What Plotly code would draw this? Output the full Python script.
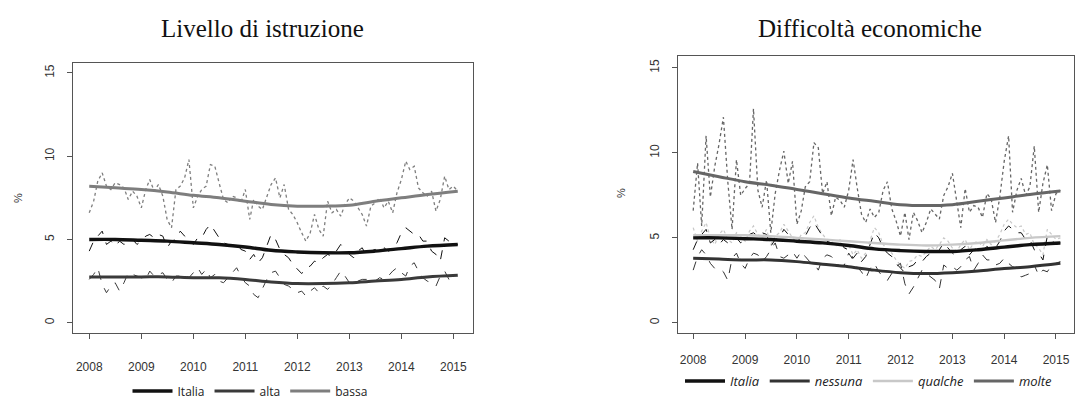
import pandas as pd
import plotly.graph_objects as go

# ---------------- data ----------------
months = pd.date_range("2008-01-01", periods=86, freq="MS")
trend_dates = ["2008-01-01", "2008-07-01", "2009-01-01", "2009-07-01", "2010-01-01",
               "2010-07-01", "2011-01-01", "2011-07-01", "2012-01-01", "2012-07-01",
               "2013-01-01", "2013-07-01", "2014-01-01", "2014-07-01", "2015-02-01"]
year_ticks = ["2008-01-01", "2009-01-01", "2010-01-01", "2011-01-01",
              "2012-01-01", "2013-01-01", "2014-01-01", "2015-01-01"]
year_labels = ["2008", "2009", "2010", "2011", "2012", "2013", "2014", "2015"]

italia_m = [4.3, 4.9, 5.2, 5.5, 4.7, 4.9, 4.6, 4.9, 4.7, 4.8, 5.0, 4.7, 4.9, 5.2, 5.3, 5.1,
            5.3, 5.2, 4.5, 4.9, 5.0, 5.5, 5.2, 5.0, 4.7, 5.1, 5.1, 5.6, 5.9, 5.5, 5.1, 4.8,
            4.7, 4.6, 4.8, 4.4, 4.3, 3.8, 4.1, 3.6, 3.9, 4.6, 5.3, 5.0, 4.4, 4.1, 3.9, 3.5,
            3.2, 2.95, 3.3, 3.4, 3.7, 3.6, 3.9, 4.1, 4.0, 4.3, 4.7, 4.4, 4.1, 3.9, 4.3, 4.5,
            4.0, 4.3, 4.4, 4.2, 4.5, 4.3, 4.4, 4.8, 5.4, 5.7, 5.5, 5.3, 5.3, 4.9, 4.9, 4.3,
            4.1, 3.7, 5.1, 4.9, 4.6, 4.7]
alta_m = [2.6, 2.9, 3.3, 2.3, 1.8, 2.2, 2.4, 1.9, 2.4, 3.0, 2.9, 2.8, 2.7, 2.6, 3.1, 2.8,
          2.9, 3.0, 2.6, 2.4, 2.8, 2.8, 2.9, 2.7, 3.0, 3.3, 2.9, 3.2, 2.7, 2.9, 2.5, 2.4,
          2.7, 3.0, 3.3, 2.8, 2.4, 2.2, 1.7, 1.5, 2.0, 2.6, 3.0, 3.1, 2.7, 2.3, 2.2, 2.0,
          1.8, 1.9, 1.6, 1.9, 2.1, 1.8, 2.2, 2.0, 2.3, 2.7, 3.1, 2.8, 2.4, 2.3, 2.5, 2.6,
          2.6, 2.4, 2.5, 2.7, 2.6, 2.8, 3.1, 3.3, 3.0, 2.8, 3.4, 3.6, 3.1, 2.7, 2.5, 2.4,
          2.2, 2.8, 3.1, 2.6, 2.7, 2.8]
bassa_m = [6.6, 7.3, 8.5, 9.0, 8.2, 8.0, 8.4, 8.3, 8.1, 7.4, 7.9, 7.6, 6.9, 8.0, 8.6, 7.9,
           8.3, 7.6, 6.2, 5.7, 8.0, 8.2, 8.7, 9.8, 6.9, 7.6, 8.0, 8.2, 9.5, 9.4, 8.4, 7.4,
           7.2, 7.6, 7.5, 7.2, 8.0, 6.2, 7.4, 7.0, 6.8, 7.5, 8.3, 8.7, 7.5, 8.3, 6.8, 6.5,
           6.0, 5.4, 4.9, 5.4, 6.5, 5.6, 5.2, 7.3, 6.6, 6.8, 6.4, 7.1, 7.5, 7.3, 6.9, 6.5,
           5.8, 7.0, 7.2, 7.5, 6.9, 7.3, 6.6, 7.8, 8.6, 9.7, 9.2, 9.4, 8.1, 7.8, 7.6, 7.9,
           6.7, 7.4, 8.8, 8.0, 8.2, 7.9]
nessuna_m = [3.1, 3.9, 4.3, 4.0, 3.5, 3.2, 3.2, 3.0, 2.5, 3.8, 4.1, 3.5, 3.2, 3.8, 4.1, 4.0,
             3.6, 3.9, 4.3, 4.7, 3.9, 3.8, 4.0, 4.2, 3.8, 4.2, 3.9, 3.6, 3.5, 3.1, 3.8, 4.0,
             3.9, 3.6, 3.3, 3.4, 4.1, 3.7, 3.3, 3.0, 2.6, 3.2, 3.5, 3.0, 2.7, 2.5, 2.9, 3.3,
             3.5, 2.3, 1.7, 2.1, 2.6, 3.1, 2.9, 2.7, 2.5, 2.0, 3.4, 3.2, 3.3, 3.1, 3.3, 3.7,
             3.9, 3.1, 3.5, 4.0, 3.7, 3.7, 3.4, 3.5, 3.8, 3.5, 3.3, 3.2, 2.7, 2.8, 2.9, 3.4,
             2.8, 3.1, 3.0, 3.4, 3.5, 3.6]
qualche_m = [5.6, 4.8, 5.4, 5.9, 5.0, 4.6, 5.2, 5.5, 4.9, 4.7, 5.3, 5.1, 4.8, 5.4, 5.7, 5.2,
             5.0, 5.5, 4.6, 5.1, 5.3, 5.8, 5.4, 5.0, 4.7, 5.2, 5.3, 5.9, 6.3, 5.6, 5.2, 4.9,
             4.8, 4.5, 4.9, 4.4, 4.6, 4.0, 4.3, 3.8, 4.1, 4.8, 5.6, 5.3, 4.6, 4.3, 4.1, 3.7,
             3.4, 3.2, 3.6, 3.7, 4.0, 3.9, 4.2, 4.5, 4.3, 4.6, 5.0, 4.8, 4.4, 4.2, 4.6, 4.9,
             4.3, 4.7, 4.8, 4.5, 4.9, 4.6, 4.8, 5.2, 5.8, 6.1, 5.8, 5.6, 5.7, 5.2, 5.3, 4.6,
             4.4, 4.0, 5.5, 5.2, 4.9, 5.0]
molte_m = [6.6, 9.4, 5.7, 11.0, 7.4, 9.2, 10.5, 12.1, 8.3, 5.5, 9.6, 7.5, 7.9, 8.2, 12.6, 7.8,
           6.8, 8.4, 5.3, 7.6, 9.0, 10.1, 8.2, 9.5, 5.8, 6.6, 8.0, 8.3, 10.6, 10.3, 7.6, 8.3,
           6.3, 7.4, 7.2, 6.8, 7.8, 9.6, 8.0, 6.4, 5.9, 6.7, 6.2, 6.5, 7.8, 8.3, 6.7, 6.0,
           5.1, 6.5, 4.9, 6.5, 6.0, 5.3, 5.9, 6.7, 6.4, 6.1, 7.5, 8.0, 8.8, 7.2, 5.6, 7.9,
           6.5, 6.9, 6.8, 6.2, 7.6, 7.3, 5.9, 7.4, 9.5, 11.0, 6.5, 7.8, 8.5, 7.5, 8.0, 10.4,
           6.5, 8.2, 9.3, 6.6, 7.6, 7.8]

italia_t = [5.0, 5.0, 4.95, 4.9, 4.8, 4.7, 4.55, 4.35, 4.25, 4.2, 4.2, 4.3, 4.45, 4.6, 4.7]
alta_t = [2.75, 2.75, 2.75, 2.75, 2.7, 2.7, 2.6, 2.45, 2.35, 2.35, 2.4, 2.5, 2.6, 2.75, 2.85]
bassa_t = [8.2, 8.1, 8.0, 7.85, 7.65, 7.5, 7.3, 7.1, 7.0, 7.0, 7.05, 7.3, 7.5, 7.7, 7.9]
nessuna_t = [3.8, 3.75, 3.7, 3.7, 3.6, 3.45, 3.3, 3.1, 2.95, 2.9, 2.95, 3.05, 3.2, 3.3, 3.5]
qualche_t = [5.15, 5.15, 5.15, 5.1, 5.0, 4.9, 4.8, 4.7, 4.6, 4.55, 4.6, 4.7, 4.85, 5.0, 5.1]
molte_t = [8.9, 8.6, 8.3, 8.1, 7.85, 7.6, 7.35, 7.15, 6.95, 6.9, 6.95, 7.15, 7.35, 7.55, 7.75]

y_ticks = [0, 5, 10, 15]

# ---------------- figure ----------------
fig = go.Figure()

C_IT = "#111111"
C_ALTA = "#3a3a3a"
C_BASSA = "#7e7e7e"
C_NES = "#333333"
C_QUA = "#c8c8c8"
C_MOL = "#666666"


def monthly(y, color, dash, xa, ya, width=1.0):
    fig.add_trace(go.Scatter(x=months, y=y, mode="lines", xaxis=xa, yaxis=ya,
                             line=dict(color=color, width=width, dash=dash),
                             showlegend=False, hoverinfo="skip"))


def trend(y, color, name, xa, ya, legend, width=3.0, rank=1000):
    fig.add_trace(go.Scatter(x=trend_dates, y=y, mode="lines", xaxis=xa, yaxis=ya,
                             line=dict(color=color, width=width, shape="spline", smoothing=1.0),
                             name=name, legend=legend, showlegend=True, legendrank=rank,
                             hoverinfo="skip"))


# left panel
monthly(bassa_m, C_BASSA, "dot", "x", "y", 1.3)
monthly(alta_m, C_ALTA, "dash", "x", "y")
monthly(italia_m, C_IT, "dash", "x", "y")
trend(italia_t, C_IT, "Italia", "x", "y", "legend", 3.4, 1)
trend(alta_t, C_ALTA, "alta", "x", "y", "legend", 3.0, 2)
trend(bassa_t, C_BASSA, "bassa", "x", "y", "legend", 3.0, 3)

# right panel
monthly(molte_m, C_MOL, "dot", "x2", "y2", 1.3)
monthly(qualche_m, C_QUA, "dot", "x2", "y2", 1.2)
monthly(nessuna_m, C_NES, "dash", "x2", "y2")
monthly(italia_m, C_IT, "dash", "x2", "y2")
trend(qualche_t, C_QUA, "qualche", "x2", "y2", "legend2", 2.4, 3)
trend(italia_t, C_IT, "Italia", "x2", "y2", "legend2", 3.4, 1)
trend(nessuna_t, C_NES, "nessuna", "x2", "y2", "legend2", 3.0, 2)
trend(molte_t, C_MOL, "molte", "x2", "y2", "legend2", 3.0, 4)

W, H = 1077, 408

axis_common = dict(showgrid=False, zeroline=False, showline=True, mirror=True,
                   linecolor="#555555", linewidth=1, ticks="outside", ticklen=5,
                   tickcolor="#555555", tickfont=dict(family="Liberation Sans", size=12,
                                                      color="#333333"))

fig.update_layout(
    width=W, height=H,
    margin=dict(l=0, r=0, t=0, b=0),
    paper_bgcolor="white", plot_bgcolor="white",
    hovermode=False,
    xaxis=dict(domain=[73 / W, 473 / W], range=["2007-09-09", "2015-05-19"],
               tickvals=year_ticks, ticktext=year_labels, anchor="y", ticklabelstandoff=18,
               **axis_common),
    yaxis=dict(domain=[1 - 333 / H, 1 - 63 / H], range=[-0.62, 15.6],
               tickvals=y_ticks, tickangle=-90, anchor="x", ticklabelstandoff=8,
               **axis_common),
    xaxis2=dict(domain=[678 / W, 1074 / W], range=["2007-09-16", "2015-05-08"],
                tickvals=year_ticks, ticktext=year_labels, anchor="y2", ticklabelstandoff=11,
                **axis_common),
    yaxis2=dict(domain=[1 - 333 / H, 1 - 56 / H], range=[-0.6, 15.7],
                tickvals=y_ticks, tickangle=-90, anchor="x2", ticklabelstandoff=8,
                **axis_common),
    legend=dict(orientation="h", x=250 / W, y=1 - 391 / H, xanchor="center",
                yanchor="middle", font=dict(family="Open Sans", size=12, color="#222"),
                itemwidth=40, tracegroupgap=0, bgcolor="rgba(0,0,0,0)",
                traceorder="normal"),
    legend2=dict(orientation="h", x=869 / W, y=1 - 381 / H, xanchor="center",
                 yanchor="middle",
                 font=dict(family="Open Sans", size=13, color="#222", style="italic"),
                 itemwidth=40, tracegroupgap=0, bgcolor="rgba(0,0,0,0)",
                 traceorder="normal"),
    annotations=[
        dict(text="Livello di istruzione", x=262 / W, y=1 - 29 / H, xref="paper",
             yref="paper", showarrow=False, xanchor="center", yanchor="middle",
             font=dict(family="Liberation Serif", size=25, color="#111")),
        dict(text="Difficoltà economiche", x=870 / W, y=1 - 29 / H, xref="paper",
             yref="paper", showarrow=False, xanchor="center", yanchor="middle",
             font=dict(family="Liberation Serif", size=25, color="#111")),
        dict(text="%", x=18 / W, y=1 - 198 / H, xref="paper", yref="paper",
             showarrow=False, textangle=-90, xanchor="center", yanchor="middle",
             font=dict(family="Liberation Sans", size=11, color="#333")),
        dict(text="%", x=621 / W, y=1 - 193 / H, xref="paper", yref="paper",
             showarrow=False, textangle=-90, xanchor="center", yanchor="middle",
             font=dict(family="Liberation Sans", size=11, color="#333")),
    ],
)

fig.write_html("out.html",
               config={"displayModeBar": False, "staticPlot": False},
               post_script="document.body.style.margin='0';document.body.style.overflow='hidden';"
                           "window.dispatchEvent(new Event('resize'));")
